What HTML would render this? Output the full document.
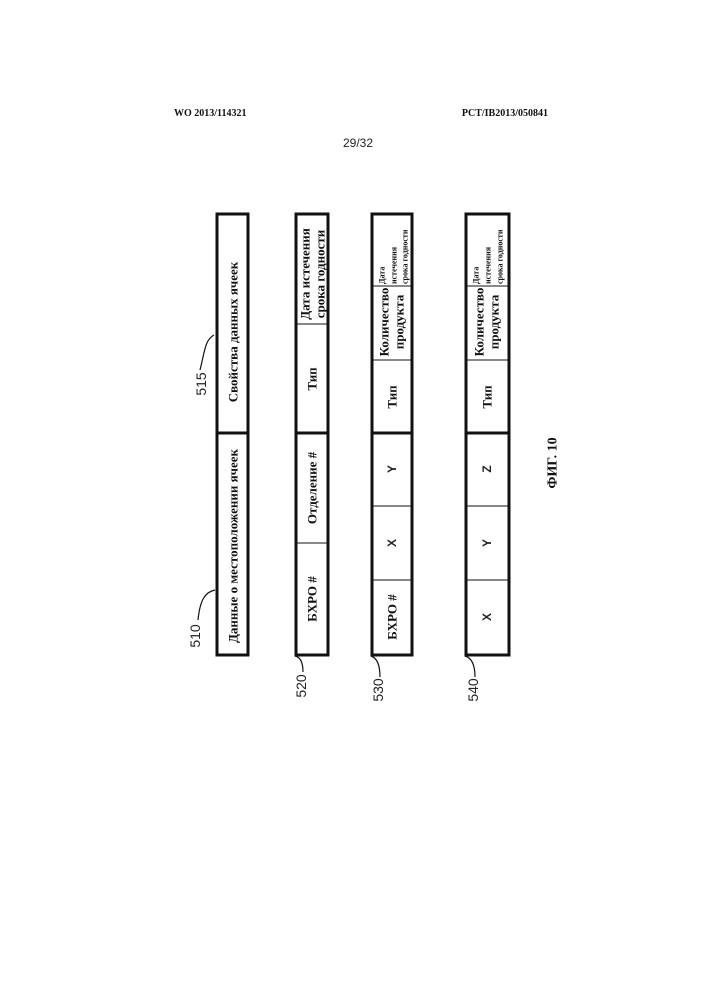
<!DOCTYPE html>
<html><head><meta charset="utf-8"><style>
html,body{margin:0;padding:0;background:#fff}
svg{display:block}
.s{font-family:"Liberation Serif",serif;font-weight:bold;fill:#111}
.a{font-family:"Liberation Sans",sans-serif;fill:#222}
</style></head><body>
<svg width="707" height="1000" viewBox="0 0 707 1000" xmlns="http://www.w3.org/2000/svg">
<text class="s" x="174" y="116" font-size="10">WO 2013/114321</text>
<text class="s" x="548" y="116" font-size="10" text-anchor="end">PCT/IB2013/050841</text>
<text class="a" x="358" y="147" font-size="12" text-anchor="middle">29/32</text>

<g fill="none" stroke="#111">
<!-- 510/515 -->
<rect x="217" y="214" width="31" height="441" stroke-width="3"/>
<line x1="217" y1="433" x2="248" y2="433" stroke-width="3"/>
<!-- 520 -->
<rect x="296" y="214" width="32" height="441" stroke-width="3"/>
<line x1="296" y1="324" x2="328" y2="324" stroke-width="1"/>
<line x1="296" y1="433" x2="328" y2="433" stroke-width="3"/>
<line x1="296" y1="543" x2="328" y2="543" stroke-width="1"/>
<!-- 530 -->
<rect x="372" y="214" width="40" height="441" stroke-width="3"/>
<line x1="372" y1="286" x2="412" y2="286" stroke-width="1"/>
<line x1="372" y1="360" x2="412" y2="360" stroke-width="1"/>
<line x1="372" y1="433" x2="412" y2="433" stroke-width="3"/>
<line x1="372" y1="506" x2="412" y2="506" stroke-width="1"/>
<line x1="372" y1="580" x2="412" y2="580" stroke-width="1"/>
<!-- 540 -->
<rect x="466" y="214" width="43" height="441" stroke-width="3"/>
<line x1="466" y1="286" x2="509" y2="286" stroke-width="1"/>
<line x1="466" y1="360" x2="509" y2="360" stroke-width="1"/>
<line x1="466" y1="433" x2="509" y2="433" stroke-width="3"/>
<line x1="466" y1="506" x2="509" y2="506" stroke-width="1"/>
<line x1="466" y1="580" x2="509" y2="580" stroke-width="1"/>
<!-- leaders -->
<path d="M200 370 C205 350,205 340,214 335" stroke-width="1.2"/>
<path d="M198 620 C200 600,205 592,215 590" stroke-width="1.2"/>
<path d="M303 672 C303 662,300 657,295 656" stroke-width="1.2"/>
<path d="M380 677 C380 665,377 658,371 656" stroke-width="1.2"/>
<path d="M475 677 C475 665,472 658,465 656" stroke-width="1.2"/>
</g>

<g class="a" font-size="14">
<text transform="translate(201,384) rotate(-90)" text-anchor="middle" dominant-baseline="central">515</text>
<text transform="translate(195,636) rotate(-90)" text-anchor="middle" dominant-baseline="central">510</text>
<text transform="translate(301,686) rotate(-90)" text-anchor="middle" dominant-baseline="central">520</text>
<text transform="translate(378,690) rotate(-90)" text-anchor="middle" dominant-baseline="central">530</text>
<text transform="translate(473,690) rotate(-90)" text-anchor="middle" dominant-baseline="central">540</text>
</g>

<g class="s" font-size="13">
<text transform="translate(233,332) rotate(-90)" text-anchor="middle" dominant-baseline="central">Свойства данных ячеек</text>
<text transform="translate(233,546) rotate(-90)" text-anchor="middle" dominant-baseline="central">Данные о местоположении ячеек</text>

<text transform="translate(305,274) rotate(-90)" text-anchor="middle" dominant-baseline="central">Дата истечения</text>
<text transform="translate(320,274) rotate(-90)" text-anchor="middle" dominant-baseline="central">срока годности</text>
<text transform="translate(312,379) rotate(-90)" text-anchor="middle" dominant-baseline="central">Тип</text>
<text transform="translate(312,488) rotate(-90)" text-anchor="middle" dominant-baseline="central">Отделение #</text>
<text transform="translate(312,599) rotate(-90)" text-anchor="middle" dominant-baseline="central">БХРО #</text>

<text transform="translate(384,322) rotate(-90)" text-anchor="middle" dominant-baseline="central">Количество</text>
<text transform="translate(399,322) rotate(-90)" text-anchor="middle" dominant-baseline="central">продукта</text>
<text transform="translate(392,397) rotate(-90)" text-anchor="middle" dominant-baseline="central">Тип</text>
<text transform="translate(392,617) rotate(-90)" text-anchor="middle" dominant-baseline="central">БХРО #</text>

<text transform="translate(479,322) rotate(-90)" text-anchor="middle" dominant-baseline="central">Количество</text>
<text transform="translate(494,322) rotate(-90)" text-anchor="middle" dominant-baseline="central">продукта</text>
<text transform="translate(487,397) rotate(-90)" text-anchor="middle" dominant-baseline="central">Тип</text>
</g>

<g class="s" font-size="8">
<text transform="translate(382,284) rotate(-90)" dominant-baseline="central">Дата</text>
<text transform="translate(394,284) rotate(-90)" dominant-baseline="central">истечения</text>
<text transform="translate(405,284) rotate(-90)" dominant-baseline="central">срока годности</text>
<text transform="translate(476,284) rotate(-90)" dominant-baseline="central">Дата</text>
<text transform="translate(488,284) rotate(-90)" dominant-baseline="central">истечения</text>
<text transform="translate(500,284) rotate(-90)" dominant-baseline="central">срока годности</text>
</g>

<g class="a" font-size="12" font-weight="bold">
<text transform="translate(392,469) rotate(-90)" text-anchor="middle" dominant-baseline="central">Y</text>
<text transform="translate(392,543) rotate(-90)" text-anchor="middle" dominant-baseline="central">X</text>
<text transform="translate(487,469) rotate(-90)" text-anchor="middle" dominant-baseline="central">Z</text>
<text transform="translate(487,543) rotate(-90)" text-anchor="middle" dominant-baseline="central">Y</text>
<text transform="translate(487,617) rotate(-90)" text-anchor="middle" dominant-baseline="central">X</text>
</g>

<text class="s" font-size="14" transform="translate(553,463) rotate(-90)" text-anchor="middle" dominant-baseline="central">ФИГ. 10</text>
</svg>
</body></html>
